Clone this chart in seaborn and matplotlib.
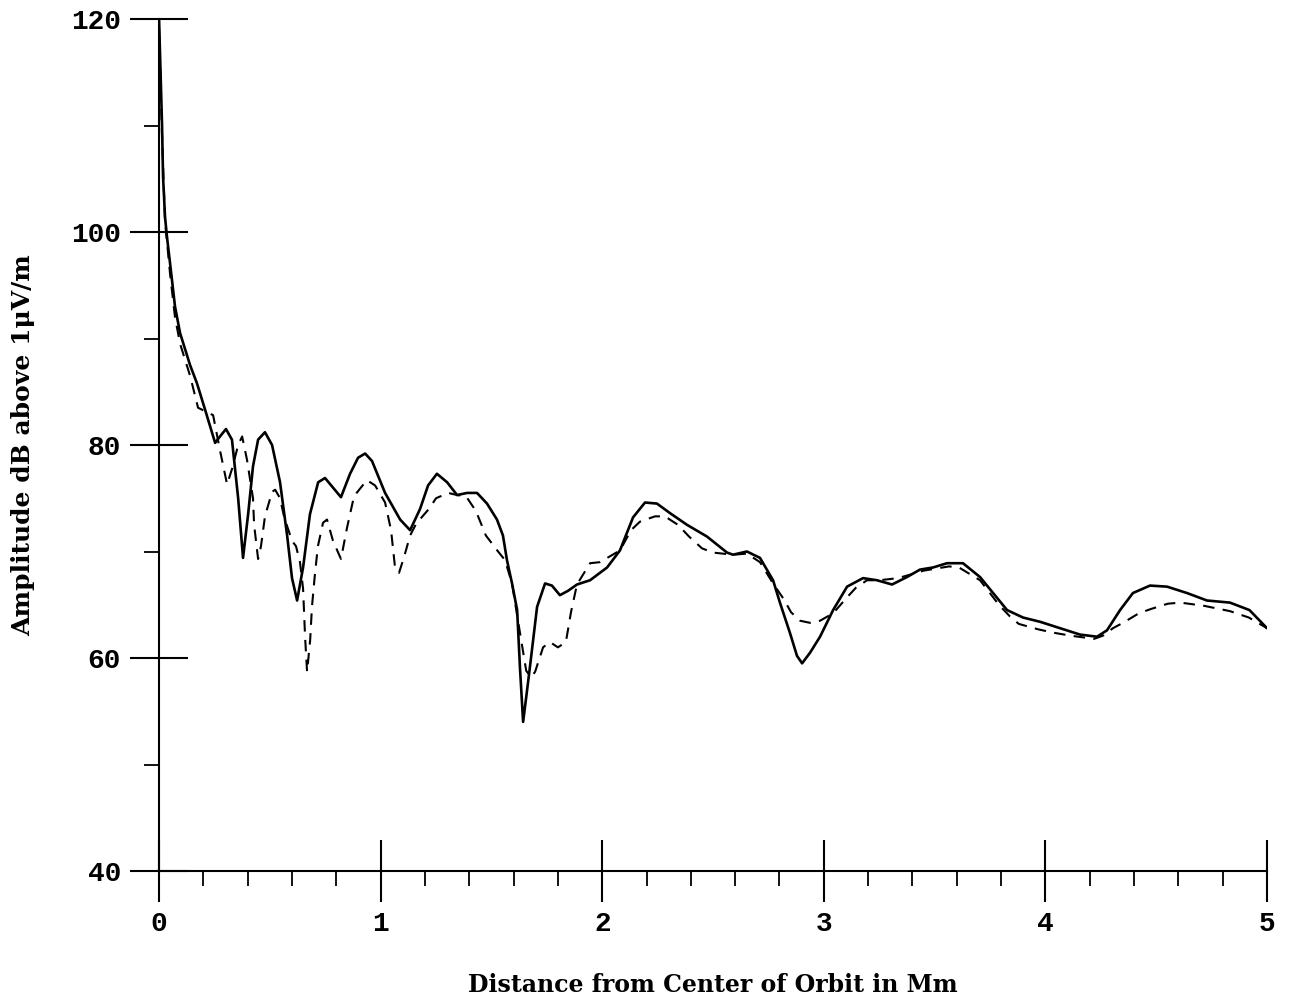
import numpy as np
import pandas as pd
import matplotlib
matplotlib.use("Agg")
import matplotlib.pyplot as plt
from matplotlib.ticker import MultipleLocator
import seaborn as sns

# Solid curve: distance (Mm) and amplitude (dB above 1 uV/m)
dist_solid = [0.000, 0.0135, 0.018, 0.027, 0.036, 0.050, 0.072, 0.095, 0.140, 0.171,
              0.208, 0.253, 0.275, 0.302, 0.329, 0.357, 0.379, 0.402, 0.424, 0.447,
              0.478, 0.510, 0.546, 0.578, 0.600, 0.623, 0.650, 0.681, 0.718, 0.749,
              0.785, 0.821, 0.862, 0.898, 0.930, 0.961, 1.020, 1.088, 1.133, 1.178,
              1.214, 1.254, 1.300, 1.345, 1.390, 1.435, 1.480, 1.525, 1.552, 1.570,
              1.593, 1.616, 1.629, 1.643, 1.661, 1.674, 1.706, 1.742, 1.773, 1.809,
              1.845, 1.886, 1.945, 2.022, 2.080, 2.139, 2.193, 2.247, 2.306, 2.383,
              2.473, 2.563, 2.590, 2.653, 2.712, 2.771, 2.802, 2.848, 2.879, 2.902,
              2.938, 2.983, 3.042, 3.105, 3.177, 3.240, 3.308, 3.375, 3.434, 3.493,
              3.556, 3.628, 3.705, 3.764, 3.827, 3.899, 3.976, 4.066, 4.156, 4.233,
              4.278, 4.337, 4.395, 4.472, 4.549, 4.639, 4.729, 4.833, 4.921, 5.000]
amp_solid = [120.0, 110.0, 105.2, 101.4, 99.5, 97.0, 93.0, 90.5, 87.5, 85.8,
             83.3, 80.2, 80.8, 81.5, 80.5, 75.0, 69.4, 73.5, 78.0, 80.5,
             81.2, 80.0, 76.5, 71.5, 67.5, 65.4, 68.5, 73.5, 76.5, 76.9,
             76.0, 75.1, 77.3, 78.8, 79.2, 78.5, 75.5, 73.0, 72.0, 74.0,
             76.2, 77.3, 76.5, 75.3, 75.5, 75.5, 74.5, 73.0, 71.5, 69.2,
             67.0, 64.5, 59.0, 54.0, 57.0, 59.2, 64.8, 67.0, 66.8, 65.9,
             66.3, 66.9, 67.3, 68.5, 70.1, 73.2, 74.6, 74.5, 73.6, 72.5,
             71.4, 69.9, 69.7, 70.0, 69.4, 67.3, 65.2, 62.3, 60.2, 59.5,
             60.5, 62.0, 64.5, 66.7, 67.5, 67.3, 66.9, 67.6, 68.3, 68.5,
             68.9, 68.9, 67.6, 66.1, 64.5, 63.8, 63.4, 62.8, 62.2, 62.0,
             62.6, 64.5, 66.1, 66.8, 66.7, 66.1, 65.4, 65.2, 64.5, 62.8]

# Dashed curve
dist_dashed = [0.000, 0.0135, 0.027, 0.050, 0.072, 0.095, 0.140, 0.176, 0.244, 0.275,
               0.307, 0.330, 0.357, 0.375, 0.397, 0.424, 0.429, 0.447, 0.460, 0.478,
               0.510, 0.524, 0.546, 0.565, 0.600, 0.618, 0.636, 0.650, 0.659, 0.668,
               0.682, 0.690, 0.704, 0.717, 0.740, 0.758, 0.785, 0.821, 0.848, 0.880,
               0.938, 0.975, 1.020, 1.047, 1.065, 1.083, 1.106, 1.133, 1.160, 1.218,
               1.250, 1.305, 1.345, 1.385, 1.430, 1.475, 1.530, 1.561, 1.593, 1.616,
               1.638, 1.657, 1.679, 1.697, 1.733, 1.764, 1.800, 1.836, 1.859, 1.886,
               1.945, 1.990, 2.080, 2.130, 2.170, 2.238, 2.283, 2.342, 2.392, 2.450,
               2.499, 2.590, 2.653, 2.712, 2.771, 2.820, 2.852, 2.893, 2.938, 2.983,
               3.042, 3.105, 3.145, 3.195, 3.250, 3.335, 3.385, 3.450, 3.565, 3.610,
               3.705, 3.790, 3.840, 3.880, 3.966, 4.030, 4.112, 4.220, 4.260, 4.305,
               4.350, 4.422, 4.476, 4.553, 4.610, 4.716, 4.833, 4.918, 5.000]
amp_dashed = [119.0, 109.0, 101.0, 96.0, 92.0, 89.5, 86.5, 83.5, 82.8, 79.5,
              76.3, 77.8, 80.0, 80.8, 78.6, 75.0, 72.5, 69.3, 70.5, 73.3,
              75.6, 75.8, 75.0, 73.2, 71.0, 70.5, 69.0, 66.5, 62.0, 58.7,
              61.7, 64.8, 68.0, 70.5, 72.7, 73.0, 71.0, 69.3, 72.2, 75.2,
              76.7, 76.2, 74.6, 72.0, 68.5, 68.0, 69.5, 71.5, 72.6, 74.0,
              75.0, 75.5, 75.3, 75.2, 73.8, 71.5, 70.0, 69.2, 67.0, 64.0,
              61.2, 58.8, 58.2, 58.7, 61.0, 61.5, 61.0, 61.5, 64.3, 66.9,
              68.9, 69.0, 70.1, 72.0, 72.8, 73.3, 73.3, 72.5, 71.4, 70.3,
              69.9, 69.7, 69.8, 69.0, 67.0, 65.5, 64.3, 63.5, 63.3, 63.5,
              64.2, 65.7, 66.6, 67.3, 67.3, 67.5, 67.8, 68.2, 68.6, 68.5,
              67.3, 65.0, 63.9, 63.2, 62.7, 62.4, 62.1, 61.8, 62.1, 62.8,
              63.3, 64.2, 64.6, 65.1, 65.2, 64.9, 64.4, 63.8, 62.8]

x_ticks = [0, 1, 2, 3, 4, 5]
y_ticks = [40, 60, 80, 100, 120]

sns.set_style("ticks")
plt.rcParams['font.family'] = ['DejaVu Serif']
plt.rcParams['text.color'] = 'black'
plt.rcParams['axes.labelcolor'] = 'black'

fig = plt.figure(figsize=(12.91, 10), dpi=100)
ax = fig.add_axes([0.1232, 0.129, 0.8582, 0.852])

sns.lineplot(x=dist_solid, y=amp_solid, ax=ax, color='black', lw=1.9,
             estimator=None, sort=False)
sns.lineplot(x=dist_dashed, y=amp_dashed, ax=ax, color='black', lw=1.5,
             linestyle=(0, (5.5, 4)), estimator=None, sort=False)

ax.set_xlim(0, 5)
ax.set_ylim(40, 120)
ax.set_xticks(x_ticks)
ax.set_yticks(y_ticks)
ax.xaxis.set_minor_locator(MultipleLocator(0.2))
ax.yaxis.set_minor_locator(MultipleLocator(10))

for s in ['top', 'right']:
    ax.spines[s].set_visible(False)
for s in ['left', 'bottom']:
    ax.spines[s].set_linewidth(1.5)
    ax.spines[s].set_color('black')

ax.tick_params(axis='y', which='major', direction='inout', length=42, width=1.5,
               pad=6.5, colors='black')
ax.tick_params(axis='x', which='major', direction='inout', length=45, width=1.5,
               pad=6, colors='black')
ax.tick_params(which='minor', direction='out', length=11, width=1.3, color='black')

mono = {'family': 'Liberation Mono', 'weight': 'bold', 'size': 20}
ax.set_xticklabels([str(v) for v in x_ticks], fontdict=mono)
ax.set_yticklabels([str(v) for v in y_ticks], fontdict=mono)

ax.set_xlabel('Distance from Center of Orbit in Mm', fontsize=17, fontweight='bold')
ax.set_ylabel('Amplitude dB above 1\u03bcV/m', fontsize=18, fontweight='bold')
ax.xaxis.set_label_coords(0.5, -0.12)
ax.yaxis.set_label_coords(-0.112, 0.5)

fig.savefig('out.png', dpi=100)
